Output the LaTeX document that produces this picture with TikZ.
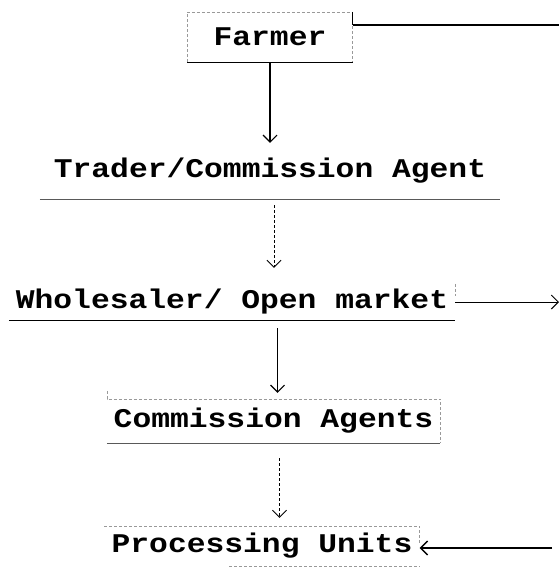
\documentclass[tikz,border=0pt]{standalone}
\usepackage{fontspec}
\usepackage{tikz}
\usetikzlibrary{arrows.meta}
\newfontfamily\typew[FakeStretch=1.16]{Liberation Mono}

\begin{document}
\begin{tikzpicture}[x=1pt,y=-1pt,
  stage/.style={font=\typew\bfseries\fontsize{27}{30}\selectfont, inner sep=0pt},
  faint/.style={draw=black!40, densely dashed, line width=0.5pt},
  rule/.style={draw=black, line width=1pt},
  dimrule/.style={draw=black!65, line width=0.9pt},
  flow/.style={-{Straight Barb[length=7pt,width=14pt]}, line width=1.1pt},
]
\useasboundingbox (0,0) rectangle (559,574);

% the stages
  \node[stage, minimum width=165, minimum height=50] (farmer) at (270,37) {Farmer};
  \node[stage, minimum width=460, minimum height=56] (trader) at (270,171) {Trader/Commission Agent};
  \node[stage, minimum width=446, minimum height=36] (whole) at (232,302) {Wholesaler/ Open market};
  \node[stage, minimum width=333, minimum height=44] (ca) at (273.5,421) {Commission Agents};
  \node[stage, minimum width=315, minimum height=40] (pu) at (262,546) {Processing Units};

% box edges, as faint as the typed sheet
  \draw[faint] (farmer.south west) -- (farmer.north west) -- (farmer.north east) -- (farmer.south east);
  \draw[rule] (farmer.south west) -- (farmer.south east);
  \draw[dimrule] (trader.south west) -- (trader.south east);
  \draw[rule] (whole.south west) -- (whole.south east);
  \draw[faint] (whole.north east) -- ++(0,12);
  \draw[faint] ([yshift=8]ca.north west) -- (ca.north west) -- (ca.north east) -- (ca.south east);
  \draw[dimrule] (ca.south west) -- (ca.south east);
  \draw[faint] (pu.north west) -- (pu.north east) -- ++(0,18);
  \draw[faint] ([xshift=125]pu.south west) -- (pu.south east);

% down the chain
  \draw[flow] (farmer) -- (trader);
  \draw[flow, densely dashed, line width=0.8pt, shorten <=6pt, shorten >=16pt]
    ([xshift=4pt]trader.south) -- ([xshift=4pt]trader.south |- whole.north);
  \draw[flow, shorten <=8pt, shorten >=6pt]
    ([xshift=4pt]ca.north |- whole.south) -- ([xshift=4pt]ca.north);
  \draw[flow, densely dashed, line width=0.8pt, shorten <=15pt, shorten >=8pt]
    ([xshift=6pt]ca.south) -- ([xshift=6pt]ca.south |- pu.north);

% side lines
  \coordinate (edgeA) at (559,25);
  \coordinate (edgeB) at (559,302);
  \coordinate (edgeC) at (552,548);
  \draw[rule, line width=1.5pt] (farmer.north east) -- (farmer.east |- edgeA);
  \draw[rule, line width=1.3pt] (farmer.east |- edgeA) -- (edgeA);
  \draw[flow, line width=1pt] (whole.east) -- (edgeB);
  \draw[flow, line width=1.3pt] (edgeC) -- (pu.east |- edgeC);
\end{tikzpicture}
\end{document}
